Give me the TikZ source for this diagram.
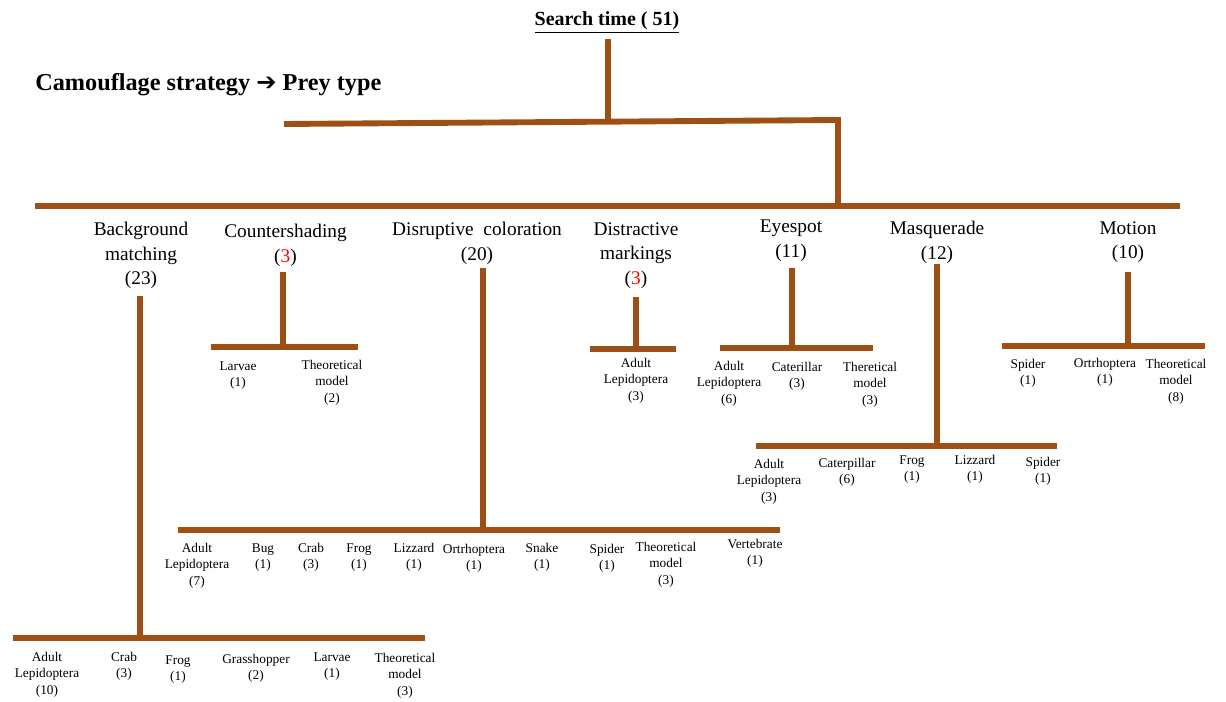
\documentclass[tikz,border=0pt]{standalone}
\usepackage{fontspec}
\setmainfont{LiberationSerif}[Extension=.ttf,UprightFont=*-Regular,BoldFont=*-Bold,ItalicFont=*-Italic,BoldItalicFont=*-BoldItalic]
\newfontfamily\dejavu{DejaVu Sans}
\definecolor{brn}{RGB}{158,80,20}
\begin{document}
\begin{tikzpicture}[x=0.75pt,y=-0.75pt,
  topbar/.style={draw=brn,line width=4.4pt},
  bar/.style={draw=brn,line width=4pt},
  cat/.style={inner sep=0pt,anchor=north,align=center,font=\fontsize{14.5}{18.4}\selectfont},
  leaf/.style={inner sep=0pt,anchor=north,align=center,font=\fontsize{10}{12.2}\selectfont}]
\useasboundingbox (0,0) rectangle (1226,702);

% titles
\node[inner sep=0pt,anchor=base,font=\bfseries\fontsize{15}{18}\selectfont] (st) at (607,26) {\underline{Search time ( 51)}};
\node[inner sep=0pt,anchor=base west,font=\bfseries\fontsize{18.2}{21}\selectfont] (ttl) at (35,91) {Camouflage strategy {\dejavu\bfseries ➔} Prey type};

% trunk
\coordinate (t0) at (608,39);
\coordinate (t1) at (608,122);
\coordinate (b1l) at (284,124);
\coordinate (b1r) at (838,120);
\coordinate (b2r) at (838,206);
\coordinate (b2l) at (35,206);
\coordinate (b2e) at (1180,206);
\draw[topbar] (t0) -- (t1);
\draw[topbar] (b1l) -- (b1r) -- (b2r);
\draw[topbar] (b2l) -- (b2e);

% categories
\node[cat] (bg) at (141,222) {Background\\matching\\(23)};
\node[cat] (cs) at (285.5,224) {Countershading\\(\textcolor{red}{3})};
\node[cat] (dc) at (477,222) {Disruptive\ \ coloration\\(20)};
\node[cat] (dm) at (636,222) {Distractive\\markings\\(\textcolor{red}{3})};
\node[cat] (es) at (791,220) {Eyespot\\(11)};
\node[cat] (mq) at (937,221) {Masquerade\\(12)};
\node[cat] (mo) at (1128,221) {Motion\\(10)};

% Background matching branch
\coordinate (bgv) at (140,296);
\coordinate (bgj) at (140,638);
\coordinate (bgl) at (13,638);
\coordinate (bgr) at (425,638);
\draw[bar] (bgv) -- (bgj);
\draw[bar] (bgl) -- (bgr);
\node[leaf] (bg1) at (47,652) {Adult\\Lepidoptera\\(10)};
\node[leaf] (bg2) at (124,652) {Crab\\(3)};
\node[leaf] (bg3) at (178,655) {Frog\\(1)};
\node[leaf] (bg4) at (256,654) {Grasshopper\\(2)};
\node[leaf] (bg5) at (332,652) {Larvae\\(1)};
\node[leaf] (bg6) at (405,653) {Theoretical\\model\\(3)};

% Countershading branch
\coordinate (csv) at (283,272);
\coordinate (csj) at (283,347);
\coordinate (csl) at (211,347);
\coordinate (csr) at (358,347);
\draw[bar] (csv) -- (csj);
\draw[bar] (csl) -- (csr);
\node[leaf] (cs1) at (238,361) {Larvae\\(1)};
\node[leaf] (cs2) at (332,360) {Theoretical\\model\\(2)};

% Disruptive coloration branch
\coordinate (dcv) at (483,268);
\coordinate (dcj) at (483,530);
\coordinate (dcl) at (178,530);
\coordinate (dcr) at (780,530);
\draw[bar] (dcv) -- (dcj);
\draw[bar] (dcl) -- (dcr);
\node[leaf] (dc1) at (197,543) {Adult\\Lepidoptera\\(7)};
\node[leaf] (dc2) at (263,543) {Bug\\(1)};
\node[leaf] (dc3) at (311,543) {Crab\\(3)};
\node[leaf] (dc4) at (359,543) {Frog\\(1)};
\node[leaf] (dc5) at (414,543) {Lizzard\\(1)};
\node[leaf] (dc6) at (474,544) {Ortrhoptera\\(1)};
\node[leaf] (dc7) at (542,543) {Snake\\(1)};
\node[leaf] (dc8) at (607,544) {Spider\\(1)};
\node[leaf] (dc9) at (666,542) {Theoretical\\model\\(3)};
\node[leaf] (dc10) at (755,539) {Vertebrate\\(1)};

% Distractive markings branch
\coordinate (dmv) at (636,297);
\coordinate (dmj) at (636,349);
\coordinate (dml) at (590,349);
\coordinate (dmr) at (676,349);
\draw[bar] (dmv) -- (dmj);
\draw[bar] (dml) -- (dmr);
\node[leaf] (dm1) at (636,358) {Adult\\Lepidoptera\\(3)};

% Eyespot branch
\coordinate (esv) at (792,268);
\coordinate (esj) at (792,348);
\coordinate (esl) at (720,348);
\coordinate (esr) at (873,348);
\draw[bar] (esv) -- (esj);
\draw[bar] (esl) -- (esr);
\node[leaf] (es1) at (729,361) {Adult\\Lepidoptera\\(6)};
\node[leaf] (es2) at (797,362) {Caterillar\\(3)};
\node[leaf] (es3) at (870,362) {Theretical\\model\\(3)};

% Masquerade branch
\coordinate (mqv) at (937,264);
\coordinate (mqj) at (937,446);
\coordinate (mql) at (756,446);
\coordinate (mqr) at (1057,446);
\draw[bar] (mqv) -- (mqj);
\draw[bar] (mql) -- (mqr);
\node[leaf] (mq1) at (769,459) {Adult\\Lepidoptera\\(3)};
\node[leaf] (mq2) at (847,458) {Caterpillar\\(6)};
\node[leaf] (mq3) at (912,455) {Frog\\(1)};
\node[leaf] (mq4) at (975,455) {Lizzard\\(1)};
\node[leaf] (mq5) at (1043,457) {Spider\\(1)};

% Motion branch
\coordinate (mov) at (1128,272);
\coordinate (moj) at (1128,346);
\coordinate (mol) at (1002,346);
\coordinate (mor) at (1205,346);
\draw[bar] (mov) -- (moj);
\draw[bar] (mol) -- (mor);
\node[leaf] (mo1) at (1028,359) {Spider\\(1)};
\node[leaf] (mo2) at (1105,358) {Ortrhoptera\\(1)};
\node[leaf] (mo3) at (1176,359) {Theoretical\\model\\(8)};
\end{tikzpicture}
\end{document}
